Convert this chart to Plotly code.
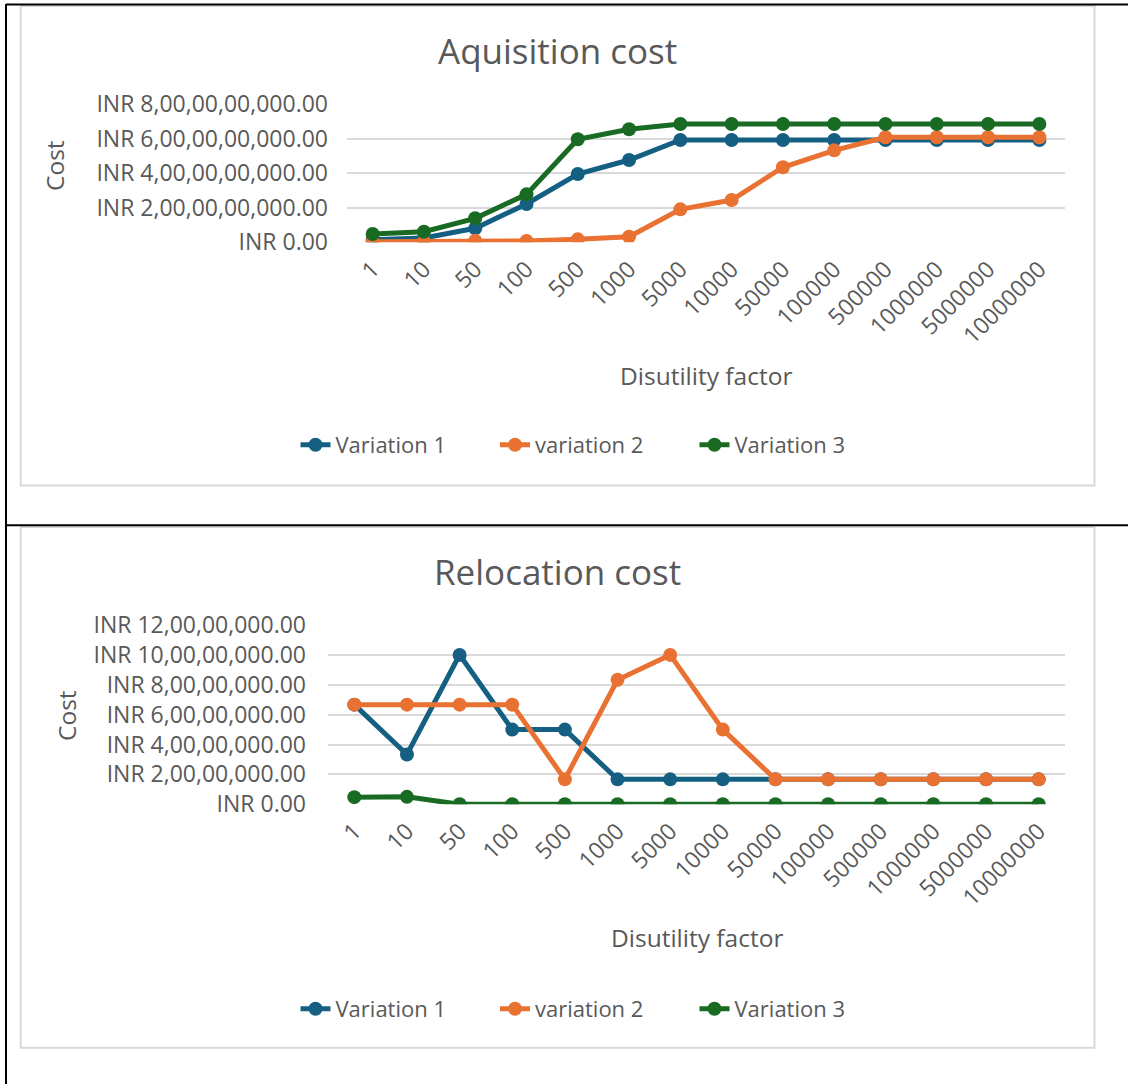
import plotly.graph_objects as go

# ---------------- data ----------------
categories = ["1", "10", "50", "100", "500", "1000", "5000", "10000", "50000",
              "100000", "500000", "1000000", "5000000", "10000000"]
series_names = ["Variation 1", "variation 2", "Variation 3"]

acq_v1 = [0.15e9, 0.25e9, 0.81e9, 2.22e9, 3.96e9, 4.77e9, 5.93e9, 5.93e9,
          5.93e9, 5.93e9, 5.93e9, 5.93e9, 5.93e9, 5.93e9]
acq_v2 = [0.03e9, 0.03e9, 0.09e9, 0.08e9, 0.17e9, 0.32e9, 1.91e9, 2.45e9,
          4.35e9, 5.33e9, 6.09e9, 6.09e9, 6.09e9, 6.09e9]
acq_v3 = [0.48e9, 0.61e9, 1.39e9, 2.78e9, 5.97e9, 6.55e9, 6.86e9, 6.86e9,
          6.86e9, 6.86e9, 6.86e9, 6.86e9, 6.86e9, 6.86e9]

rel_v1 = [6.67e7, 3.33e7, 10.0e7, 5.0e7, 5.0e7, 1.67e7, 1.67e7, 1.67e7,
          1.67e7, 1.67e7, 1.67e7, 1.67e7, 1.67e7, 1.67e7]
rel_v2 = [6.67e7, 6.67e7, 6.67e7, 6.67e7, 1.67e7, 8.33e7, 10.0e7, 5.0e7,
          1.67e7, 1.67e7, 1.67e7, 1.67e7, 1.67e7, 1.67e7]
rel_v3 = [0.48e7, 0.5e7, 0, 0, 0, 0, 0, 0, 0, 0, 0, 0, 0, 0]

acq_tickvals = [0, 2e9, 4e9, 6e9, 8e9]
acq_ticktext = ["INR 0.00", "INR 2,00,00,00,000.00", "INR 4,00,00,00,000.00",
                "INR 6,00,00,00,000.00", "INR 8,00,00,00,000.00"]
rel_tickvals = [0, 2e7, 4e7, 6e7, 8e7, 10e7, 12e7]
rel_ticktext = ["INR 0.00", "INR 2,00,00,000.00", "INR 4,00,00,000.00",
                "INR 6,00,00,000.00", "INR 8,00,00,000.00",
                "INR 10,00,00,000.00", "INR 12,00,00,000.00"]

colors = ["#156082", "#E97132", "#196B24"]

# ---------------- layout helpers ----------------
W, H = 1128, 1084
FONT = "Open Sans"
GREY = "#595959"


def px(x):
    return x / W


def py(y):
    return 1 - y / H


fig = go.Figure()

for name, vals, col in zip(series_names, [acq_v1, acq_v2, acq_v3], colors):
    fig.add_trace(go.Scatter(
        x=categories, y=vals, name=name, mode="lines+markers",
        line=dict(color=col, width=5), marker=dict(color=col, size=14),
        xaxis="x", yaxis="y", legend="legend"))

for name, vals, col in zip(series_names, [rel_v1, rel_v2, rel_v3], colors):
    fig.add_trace(go.Scatter(
        x=categories, y=vals, name=name, mode="lines+markers",
        line=dict(color=col, width=5), marker=dict(color=col, size=14),
        xaxis="x2", yaxis="y2", legend="legend2"))

tickfont = dict(family=FONT, size=23, color=GREY)

xcommon = dict(type="category", categoryorder="array", categoryarray=categories,
               range=[-0.5, len(categories) - 0.5], tickangle=-45,
               showgrid=False, zeroline=False, showline=False, automargin=False,
               ticks="", tickfont=tickfont, ticklabelstandoff=8, fixedrange=True)

legend_common = dict(orientation="h", xanchor="center", yanchor="middle",
                     entrywidth=154.5, entrywidthmode="pixels",
                     font=dict(family=FONT, size=22, color=GREY),
                     bgcolor="rgba(0,0,0,0)")

fig.update_layout(
    width=W, height=H,
    margin=dict(l=0, r=0, t=0, b=0, pad=0, autoexpand=False),
    paper_bgcolor="white", plot_bgcolor="white",
    showlegend=True,
    xaxis=dict(domain=[px(347), px(1065)], anchor="y", **xcommon),
    yaxis=dict(domain=[py(242.3), py(104.3)], anchor="x", range=[0, 8e9],
               tickvals=acq_tickvals, ticktext=acq_ticktext,
               showgrid=True, gridcolor="#D9D9D9", gridwidth=1.5,
               zeroline=False, showline=False, tickfont=tickfont, automargin=False,
               ticklabelstandoff=18, fixedrange=True),
    xaxis2=dict(domain=[px(328), px(1065)], anchor="y2", **xcommon),
    yaxis2=dict(domain=[py(804.3), py(625)], anchor="x2", range=[0, 12e7],
                tickvals=rel_tickvals, ticktext=rel_ticktext,
                showgrid=True, gridcolor="#D9D9D9", gridwidth=1.5,
                zeroline=False, showline=False, tickfont=tickfont, automargin=False,
                ticklabelstandoff=21, fixedrange=True),
    legend=dict(x=px(595), y=py(445), **legend_common),
    legend2=dict(x=px(595), y=py(1009), **legend_common),
)

annots = [
    dict(text="Aquisition cost", x=px(557), y=py(50), size=35, angle=0),
    dict(text="Relocation cost", x=px(557), y=py(571), size=35, angle=0),
    dict(text="Disutility factor", x=px(706), y=py(376), size=24.5, angle=0),
    dict(text="Disutility factor", x=px(697), y=py(937), size=24.5, angle=0),
    dict(text="Cost", x=px(54), y=py(166), size=24.5, angle=-90),
    dict(text="Cost", x=px(66), y=py(716), size=24.5, angle=-90),
]
for a in annots:
    fig.add_annotation(text=a["text"], x=a["x"], y=a["y"], xref="paper", yref="paper",
                       xanchor="center", yanchor="middle", showarrow=False,
                       textangle=a["angle"],
                       font=dict(family=FONT, size=a["size"], color=GREY))

# chart borders (light grey) and table lines (black)
for (y0, y1) in [(6, 485.5), (527, 1047.7)]:
    fig.add_shape(type="rect", xref="paper", yref="paper",
                  x0=px(20.7), x1=px(1094.5), y0=py(y1), y1=py(y0),
                  line=dict(color="#D9D9D9", width=2), fillcolor="rgba(0,0,0,0)",
                  layer="below")
for (x0, y0, x1, y1) in [(6, 4.5, 1128, 4.5), (6, 525.3, 1128, 525.3), (6, 4, 6, 1084)]:
    fig.add_shape(type="line", xref="paper", yref="paper",
                  x0=px(x0), x1=px(x1), y0=py(y0), y1=py(y1),
                  line=dict(color="black", width=2))

fig.write_html("out.html")
